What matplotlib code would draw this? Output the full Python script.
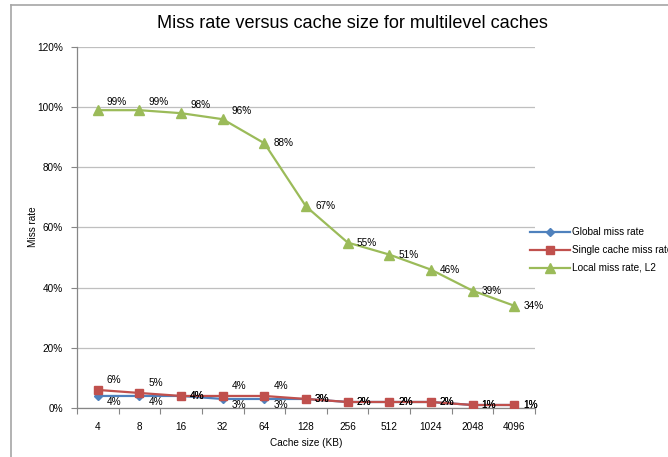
import matplotlib
matplotlib.use("Agg")
import matplotlib.pyplot as plt
from matplotlib.lines import Line2D

plt.rcParams['font.family'] = ['Liberation Sans', 'DejaVu Sans']

sizes = ['4', '8', '16', '32', '64', '128', '256', '512', '1024', '2048', '4096']
global_miss = [0.04, 0.04, 0.04, 0.03, 0.03, 0.03, 0.02, 0.02, 0.02, 0.01, 0.01]
single_miss = [0.06, 0.05, 0.04, 0.04, 0.04, 0.03, 0.02, 0.02, 0.02, 0.01, 0.01]
local_l2 = [0.99, 0.99, 0.98, 0.96, 0.88, 0.67, 0.55, 0.51, 0.46, 0.39, 0.34]

blue = '#4F81BD'
red = '#C0504D'
green = '#9BBB59'
grid_c = '#BFBFBF'
axis_c = '#868686'
fs = 7.2

W, H = 668, 457
fig = plt.figure(figsize=(W / 100, H / 100), dpi=100)
ax = fig.add_axes([77 / W, 49 / H, (535 - 77) / W, (408 - 47) / H])

x = list(range(len(sizes)))
ax.plot(x, global_miss, color=blue, lw=1.6, marker='D', ms=4.5, label='Global miss rate', zorder=3)
ax.plot(x, single_miss, color=red, lw=1.6, marker='s', ms=5.5, label='Single cache miss rate', zorder=4)
ax.plot(x, local_l2, color=green, lw=1.6, marker='^', ms=6.5, label='Local miss rate, L2', zorder=3)

# value labels to the right of each point
lab = dict(textcoords='offset pixels', ha='left', va='center', fontsize=fs, color='black', zorder=6)
for i in x:
    g, s, l = global_miss[i], single_miss[i], local_l2[i]
    ax.annotate('%d%%' % round(g * 100), (i, g), xytext=(9, -6 if g < s else 0), **lab)
    ax.annotate('%d%%' % round(s * 100), (i, s), xytext=(9, 10 if s > g else 0), **lab)
    ax.annotate('%d%%' % round(l * 100), (i, l), xytext=(9, 8 if l > 0.9 else 0), **lab)

ax.set_xlim(-0.5, len(sizes) - 0.5)
ax.set_ylim(0, 1.2)
ax.set_yticks([0, 0.2, 0.4, 0.6, 0.8, 1.0, 1.2])
ax.set_yticklabels(['0%', '20%', '40%', '60%', '80%', '100%', '120%'])
ax.set_xticks(x)
ax.set_xticklabels(sizes)
ax.set_xticks([i - 0.5 for i in range(len(sizes) + 1)], minor=True)
ax.tick_params(axis='x', which='major', length=0, pad=10, labelsize=fs)
ax.tick_params(axis='x', which='minor', length=4, color=axis_c, width=0.8)
ax.tick_params(axis='y', length=4, color=axis_c, width=0.8, pad=6, labelsize=fs)
ax.yaxis.grid(True, color=grid_c, lw=0.9)
ax.set_axisbelow(True)
for side in ['top', 'right']:
    ax.spines[side].set_visible(False)
for side in ['left', 'bottom']:
    ax.spines[side].set_color(axis_c)
    ax.spines[side].set_linewidth(0.9)

fig.text(352 / W, 1 - 24 / H, 'Miss rate versus cache size for multilevel caches',
         ha='center', va='center', fontsize=13.1)
fig.text(33 / W, 1 - 227 / H, 'Miss rate', rotation=90, ha='center', va='center', fontsize=fs)
fig.text(306 / W, 1 - 443 / H, 'Cache size (KB)', ha='center', va='center', fontsize=fs)

# legend drawn by hand so the long entry runs off the right edge
handles = [(blue, 'D', 4.5, 'Global miss rate'),
           (red, 's', 5.5, 'Single cache miss rate'),
           (green, '^', 6.5, 'Local miss rate, L2')]
for k, (c, m, ms, txt) in enumerate(handles):
    yy = 1 - (232 + 18 * k) / H
    fig.add_artist(Line2D([530 / W, 570 / W], [yy, yy], color=c, lw=1.6))
    fig.add_artist(Line2D([550 / W], [yy], color=c, marker=m, ms=ms, lw=0))
    fig.text(572 / W, yy, txt, ha='left', va='center', fontsize=fs)

# chart border
fig.add_artist(Line2D([11 / W, 1.0], [1 - 5 / H, 1 - 5 / H], color='#A6A6A6', lw=1.2))
fig.add_artist(Line2D([11 / W, 11 / W], [0, 1 - 5 / H], color='#A6A6A6', lw=1.2))

fig.savefig('out.png', dpi=100)
